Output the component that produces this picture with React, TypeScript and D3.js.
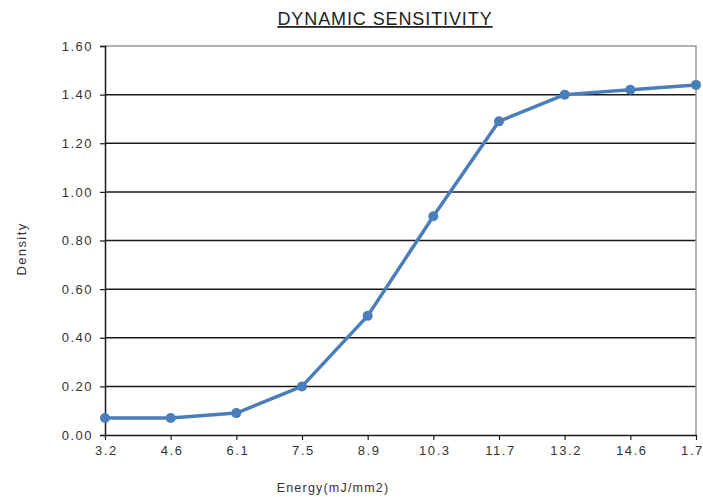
import { useEffect, useRef } from 'react';
import * as d3 from 'd3';

const energies = ['3.2', '4.6', '6.1', '7.5', '8.9', '10.3', '11.7', '13.2', '14.6', '1.7'];
const density = [0.07, 0.07, 0.09, 0.2, 0.49, 0.9, 1.29, 1.4, 1.42, 1.44];
const yTicks = [0, 0.2, 0.4, 0.6, 0.8, 1.0, 1.2, 1.4, 1.6];

export default function App() {
    const ref = useRef<SVGSVGElement>(null);

    useEffect(() => {
        document.body.style.margin = '0';
        if (!ref.current) return;
        const svg = d3.select(ref.current);
        svg.selectAll('*').remove();

        const left = 105, right = 696, top = 46, bottom = 435;
        const font = 'Liberation Sans, Arial, sans-serif';

        const x = d3.scalePoint<string>().domain(energies).range([left, right]);
        const y = d3.scaleLinear().domain([0, 1.6]).range([bottom, top]);

        // Gridlines
        svg.append('g')
            .selectAll('line')
            .data(yTicks.filter(t => t > 0 && t < 1.6))
            .join('line')
            .attr('x1', left).attr('x2', right)
            .attr('y1', d => y(d)).attr('y2', d => y(d))
            .attr('stroke', '#1a1a1a')
            .attr('stroke-width', 1.5);

        // top & right border
        svg.append('path')
            .attr('d', `M${left},${y(1.6)}H${right}V${bottom}`)
            .attr('fill', 'none')
            .attr('stroke', '#999')
            .attr('stroke-width', 1.5);

        // Y axis
        const yAxis = svg.append('g')
            .attr('transform', `translate(${left},0)`)
            .call(d3.axisLeft(y).tickValues(yTicks).tickFormat(d3.format('.2f')).tickSize(5).tickPadding(7));
        yAxis.select('.domain').attr('stroke', '#1a1a1a').attr('stroke-width', 1.5);
        yAxis.selectAll('.tick line').attr('stroke', '#1a1a1a').attr('stroke-width', 1.2);
        yAxis.selectAll('text')
            .attr('font-family', font).attr('font-size', 13)
            .attr('letter-spacing', 1.5).attr('fill', '#333');

        // X axis
        const xAxis = svg.append('g')
            .attr('transform', `translate(0,${bottom})`)
            .call(d3.axisBottom(x).tickSize(5).tickSizeOuter(0).tickPadding(6));
        xAxis.select('.domain').attr('stroke', '#1a1a1a').attr('stroke-width', 1.5);
        xAxis.selectAll('.tick line').attr('stroke', '#1a1a1a').attr('stroke-width', 1.2);
        xAxis.selectAll('text')
            .attr('font-family', font).attr('font-size', 13)
            .attr('letter-spacing', 1.6)
            .attr('dx', (_, i) => (i === energies.length - 1 ? -4 : 1))
            .attr('fill', '#333');

        // Line
        const line = d3.line<number>()
            .x((_, i) => x(energies[i]) as number)
            .y(d => y(d));
        svg.append('path')
            .datum(density)
            .attr('d', line)
            .attr('fill', 'none')
            .attr('stroke', '#4a7ebb')
            .attr('stroke-width', 3.5)
            .attr('stroke-linejoin', 'round');

        svg.append('g')
            .selectAll('circle')
            .data(density)
            .join('circle')
            .attr('cx', (_, i) => x(energies[i]) as number)
            .attr('cy', d => y(d))
            .attr('r', 5)
            .attr('fill', '#4a7ebb');

        // Title
        svg.append('text')
            .attr('x', 385).attr('y', 25)
            .attr('text-anchor', 'middle')
            .attr('font-family', font).attr('font-size', 18)
            .attr('letter-spacing', 0.9)
            .attr('fill', '#222')
            .attr('text-decoration', 'underline')
            .text('DYNAMIC SENSITIVITY');

        // Axis titles
        svg.append('text')
            .attr('transform', 'translate(26,249) rotate(-90)')
            .attr('text-anchor', 'middle')
            .attr('font-family', font).attr('font-size', 13)
            .attr('letter-spacing', 1.4)
            .attr('fill', '#333')
            .text('Density');

        svg.append('text')
            .attr('x', 333).attr('y', 492)
            .attr('text-anchor', 'middle')
            .attr('font-family', font).attr('font-size', 12.5)
            .attr('letter-spacing', 1.2)
            .attr('fill', '#333')
            .text('Energy(mJ/mm2)');
    }, []);

    return <svg ref={ref} width={703} height={497} style={{ display: 'block', background: '#fff' }} />;
}
